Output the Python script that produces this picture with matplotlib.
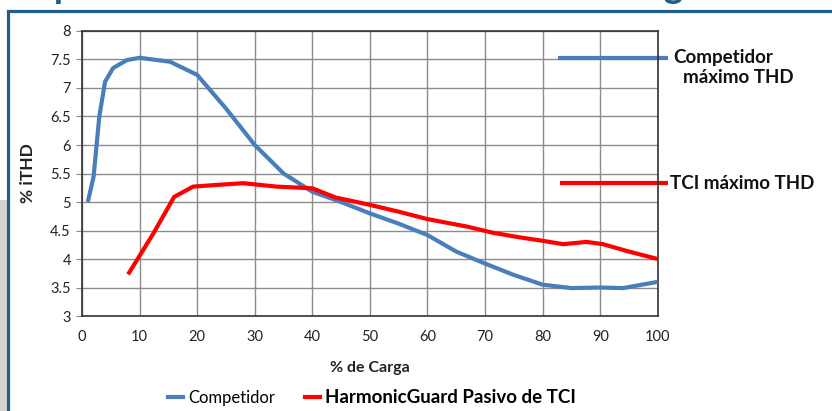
import numpy as np
import matplotlib.pyplot as plt
from matplotlib.patches import Rectangle
from matplotlib.lines import Line2D

# valores
carga_comp = [1, 2, 3, 4, 5.4, 7.8, 10, 15.3, 20, 25, 30, 35, 40, 45, 50, 55, 60,
              65, 70, 75, 80, 85, 90, 94, 100]
thd_comp = [5.0, 5.44, 6.5, 7.11, 7.35, 7.49, 7.53, 7.46, 7.23, 6.64, 6.0, 5.5, 5.18,
            5.0, 4.80, 4.62, 4.42, 4.13, 3.92, 3.72, 3.55, 3.49, 3.50, 3.49, 3.60]

carga_tci = [8, 12.4, 16, 19.3, 23.4, 28, 33.8, 40, 44, 50, 55, 60, 66.8, 71.4, 76,
             80, 83.6, 87.6, 90.5, 95, 100]
thd_tci = [3.73, 4.45, 5.09, 5.27, 5.30, 5.33, 5.27, 5.24, 5.08, 4.95, 4.83, 4.70,
           4.57, 4.46, 4.38, 4.32, 4.26, 4.30, 4.26, 4.13, 4.0]

x_ticks = list(range(0, 101, 10))
y_ticks = [3, 3.5, 4, 4.5, 5, 5.5, 6, 6.5, 7, 7.5, 8]
y_labels = ["3", "3.5", "4", "4.5", "5", "5.5", "6", "6.5", "7", "7.5", "8"]

# niveles maximos marcados a la derecha
max_comp = 7.53
max_tci = 5.33

AZUL = "#4a7ebb"
ROJO = "#ff0000"
MARCO = "#1f5f8b"

plt.rcParams['font.family'] = ['Lato', 'DejaVu Sans']

fig = plt.figure(figsize=(8.32, 4.11), dpi=100)

# fondo gris a la izquierda y marco azul (detras de los ejes)
fig.patches.append(Rectangle((0, 0), 0.009, 0.513, transform=fig.transFigure,
                             facecolor="#d3d3d3", edgecolor="none", zorder=-2))
fig.patches.append(Rectangle((0.0095, -0.1), 1.1, 1.073, transform=fig.transFigure,
                             facecolor="white", edgecolor=MARCO, linewidth=2.3, zorder=-1))

# titulo de la diapositiva, cortado arriba (solo asoman los trazos bajos)
fig.text(-0.029, 1.005, "Comparativo de THD en función de la carga", color=MARCO,
         fontsize=27, fontweight="bold", va="baseline", ha="left")

ax = fig.add_axes([0.0986, 0.2311, 0.692, 0.6935])
ax.plot(carga_comp, thd_comp, color=AZUL, lw=3, solid_capstyle="butt", zorder=3)
ax.plot(carga_tci, thd_tci, color=ROJO, lw=3, solid_capstyle="butt", zorder=3)

ax.set_xlim(0, 100)
ax.set_ylim(3, 8)
ax.set_xticks(x_ticks)
ax.set_yticks(y_ticks)
ax.set_yticklabels(y_labels)
ax.tick_params(axis="x", length=0, pad=10, labelsize=10.5, colors="#222222")
ax.tick_params(axis="y", length=4, width=0.8, color="#888888", pad=4,
               labelsize=10.5, labelcolor="#222222")
ax.grid(True, color="#8c8c8c", lw=1)
ax.set_axisbelow(True)
for s in ax.spines.values():
    s.set_color("#333333")
    s.set_linewidth(1.2)

ax.set_xlabel("% de Carga", fontsize=11.5, fontweight="bold", labelpad=12, color="#222222")
ax.set_ylabel("% iTHD", fontsize=12.5, fontweight="bold", labelpad=10, color="#222222")

# etiquetas de maximos
ax.plot([82.6, 101.7], [max_comp, max_comp], color=AZUL, lw=3, clip_on=False,
        solid_capstyle="butt")
ax.plot([83.0, 101.7], [max_tci, max_tci], color=ROJO, lw=3, clip_on=False,
        solid_capstyle="butt")
ax.text(102.7, max_comp, "Competidor", fontsize=13.5, fontweight="bold",
        va="center", ha="left", color="#111111")
ax.text(104.3, max_comp - 0.34, "máximo THD", fontsize=13.5, fontweight="bold",
        va="center", ha="left", color="#111111")
ax.text(102.2, max_tci, "TCI máximo THD", fontsize=13.5, fontweight="bold",
        va="center", ha="left", color="#111111")

handles = [Line2D([], [], color=AZUL, lw=3), Line2D([], [], color=ROJO, lw=3)]
leg = fig.legend(handles, ["Competidor", "HarmonicGuard Pasivo de TCI"],
                 loc="center", bbox_to_anchor=(0.447, 0.034), ncol=2,
                 frameon=False, fontsize=12, handlelength=0.9,
                 handletextpad=0.3, columnspacing=1.8)
leg.get_texts()[1].set_fontweight("bold")
leg.get_texts()[1].set_fontsize(13.5)

fig.savefig("out.png", dpi=100)
